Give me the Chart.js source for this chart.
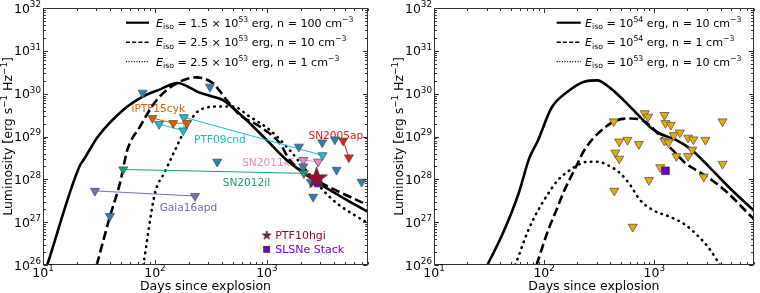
<!DOCTYPE html>
<html>
<head>
<meta charset="utf-8">
<script src="https://cdn.jsdelivr.net/npm/chart.js@4.4.1/dist/chart.umd.min.js"></script>
<style>
  html, body { margin: 0; padding: 0; background: #fff; }
  #wrap { position: relative; width: 760px; height: 293px; }
  canvas { position: absolute; top: 0; }
  #left { left: 0; }
  #right { left: 380px; }
</style>
</head>
<body>
<div id="wrap">
  <canvas id="left" width="380" height="293"></canvas>
  <canvas id="right" width="380" height="293"></canvas>
</div>
<script>
/* ============================================================
   Radio afterglow models vs. SLSN upper limits (two panels)
   ============================================================ */

// Tick labels (powers of ten)
const xTickExps = [1, 2, 3];
const yTickExps = [26, 27, 28, 29, 30, 31, 32];

// ---- Left panel: off-axis afterglow models (days, log10 L) ----
const leftSolidDays = [10.9, 21.4, 23, 31, 52, 78, 111, 158, 252, 330, 405, 610, 993, 1500, 2780, 4500, 8000];
const leftSolidLogL = [26.0, 28.33, 28.45, 29.0, 29.62, 29.93, 30.1, 30.25, 30.02, 29.93, 29.85, 29.46, 28.92, 28.45, 27.94, 27.61, 27.24];
const leftDashDays = [30.2, 39.6, 48.7, 56.6, 73.5, 103.5, 156, 235, 330, 437, 574, 867, 1306, 1600, 2790, 4490, 8000];
const leftDashLogL = [26.0, 27.13, 27.91, 28.68, 29.23, 29.85, 30.24, 30.38, 30.24, 29.85, 29.5, 29.23, 28.84, 28.45, 27.98, 27.70, 27.40];
const leftDotDays = [78.7, 100, 123, 151, 192, 252, 380, 497, 705, 1064, 1600, 2420, 3880, 8000];
const leftDotLogL = [26.0, 27.67, 28.18, 28.68, 29.23, 29.62, 29.70, 29.70, 29.46, 29.15, 28.68, 28.10, 27.52, 26.97];

// ---- Left panel: radio upper limits ----
const blueDays = [77.6, 310, 39.6, 360, 1930, 3120, 4050, 4190, 7010, 2590, 2110, 2470];
const blueLogL = [30.02, 30.16, 27.14, 28.41, 28.76, 28.86, 28.93, 28.22, 27.94, 27.59, 28.30, 27.94];
const iptf15cykDays = [95, 145.5, 193];
const iptf15cykLogL = [29.43, 29.31, 29.31];
const ptf09cndDays = [109, 179, 181.5, 3140];
const ptf09cndLogL = [29.29, 29.14, 29.45, 28.56];
const sn2005apDays = [4800, 5400];
const sn2005apLogL = [28.90, 28.51];
const sn2011kfDays = [2120, 2870];
const sn2011kfLogL = [28.45, 28.41];
const sn2012ilDays = [52.1, 2140];
const sn2012ilLogL = [28.23, 28.14];
const gaia16apdDays = [29.1, 228];
const gaia16apdLogL = [27.73, 27.61];
const ptf10hgiDays = [2780];
const ptf10hgiLogL = [28.05];
const stackLeftDays = [2870];
const stackLeftLogL = [27.91];

// ---- Right panel: on-axis afterglow models ----
const rightSolidDays = [30.5, 42.2, 58.6, 73.4, 88.3, 116, 164, 231, 303, 399, 525, 690, 908, 1114, 1570, 2200, 3340, 5050, 8000];
const rightSolidLogL = [26.0, 26.74, 27.67, 28.50, 28.92, 29.66, 30.05, 30.28, 30.31, 30.13, 29.85, 29.54, 29.23, 29.07, 28.92, 28.68, 28.22, 27.75, 27.27];
const rightDashDays = [85.3, 109, 129, 153, 175, 201, 231, 348, 458, 603, 792, 973, 1280, 1470, 1930, 2530, 3340, 4700, 6200, 8000];
const rightDashLogL = [26.0, 26.82, 27.28, 27.75, 28.06, 28.37, 28.68, 29.19, 29.38, 29.42, 29.37, 29.19, 28.84, 28.68, 28.37, 28.18, 27.98, 27.67, 27.36, 27.07];
const rightDotDays = [54.7, 72, 88.3, 109, 133, 164, 201, 247, 303, 399, 490, 603, 740, 973, 1370, 1930, 2530, 3120, 3950];
const rightDotLogL = [26.0, 26.82, 27.28, 27.67, 27.98, 28.18, 28.33, 28.41, 28.41, 28.30, 28.14, 27.87, 27.52, 27.28, 27.13, 26.93, 26.66, 26.40, 26.0];

// ---- Right panel: SLSN sample upper limits ----
const sampleDays = [428, 819, 879, 1236, 1262, 1410, 4160, 480, 570, 724, 1236, 1343, 1500, 1708,
                    2025, 2260, 2910, 443, 480, 1585, 2025, 2210, 4160, 1132, 2810, 895, 433, 637];
const sampleLogL = [29.35, 29.54, 29.46, 29.50, 29.31, 29.27, 29.35, 28.88, 28.92, 28.82, 28.90, 28.86, 29.03, 29.09,
                    28.97, 28.93, 28.92, 28.62, 28.48, 28.54, 28.54, 28.69, 28.36, 28.28, 28.06, 27.98, 27.73, 26.89];
const stackRightDays = [1262];
const stackRightLogL = [28.20];

// Palette
const C = {
  blue: '#2c7fb8', orange: '#d95f02', cyan: '#17becf', red: '#e41a1c',
  pink: '#e78ac3', green: '#1b9e77', lavender: '#7570b3', gold: '#e6ab02',
  star: '#9e0b26', starText: '#a50026', stack: '#6a00d4', stackText: '#7300e6'
};
const FONT = '"DejaVu Sans"';

// ---- helpers ----
function pts(days, logL) {
  return days.map((d, i) => ({ x: d, y: Math.pow(10, logL[i]) }));
}

function curve(days, logL, dash, cap) {
  return {
    data: pts(days, logL), showLine: true, borderColor: '#000', borderWidth: 2.6,
    borderDash: dash, borderCapStyle: cap || 'butt', pointRadius: 0,
    cubicInterpolationMode: 'monotone', order: 10
  };
}

function limits(days, logL, color, withLine) {
  return {
    data: pts(days, logL), showLine: withLine, borderColor: color, borderWidth: 1,
    pointStyle: 'triangle', rotation: 180, pointRadius: 5.2,
    pointBackgroundColor: color, pointBorderColor: '#555', pointBorderWidth: 0.8, order: 3
  };
}

function starImage(R, fill) {
  const c = document.createElement('canvas');
  const s = Math.ceil(R * 2 + 2);
  c.width = c.height = s;
  const g = c.getContext('2d');
  g.beginPath();
  for (let i = 0; i < 10; i++) {
    const a = -Math.PI / 2 + i * Math.PI / 5;
    const r = i % 2 ? R * 0.382 : R;
    g.lineTo(s / 2 + r * Math.cos(a), s / 2 + R * 0.1 + r * Math.sin(a));
  }
  g.closePath();
  g.fillStyle = fill; g.fill();
  g.strokeStyle = '#333'; g.lineWidth = 0.8; g.stroke();
  return c;
}

// text with italic / sub / sup runs: parts = [[text, style], ...]
function drawRich(ctx, parts, x, y, size, align, color) {
  const fontFor = s => (s === 'it' ? 'italic ' : '') + ((s === 'sub' || s === 'sup') ? size * 0.7 : size) + 'px ' + FONT;
  let w = 0;
  parts.forEach(([t, s]) => { ctx.font = fontFor(s); w += ctx.measureText(t).width; });
  let cx = align === 'center' ? x - w / 2 : align === 'right' ? x - w : x;
  ctx.fillStyle = color || '#000';
  ctx.textAlign = 'left';
  ctx.textBaseline = 'alphabetic';
  parts.forEach(([t, s]) => {
    ctx.font = fontFor(s);
    const dy = s === 'sup' ? -size * 0.45 : s === 'sub' ? size * 0.22 : 0;
    ctx.fillText(t, cx, y + dy);
    cx += ctx.measureText(t).width;
  });
  return w;
}

function eiso(mant, exp, n) {
  const head = [['E', 'it'], ['iso', 'sub'], [mant ? ' = ' + mant + ' × 10' : ' = 10', '']];
  return head.concat([[String(exp), 'sup'], [' erg, n = ' + n + ' cm', ''], ['−3', 'sup']]);
}

// Frame, inward log ticks, tick labels, axis titles, legends, annotations
const panelPlugin = {
  id: 'panel',
  beforeDatasetsDraw(chart, args, o) {
    const { ctx, scales: { x, y } } = chart;
    ctx.save();
    (o.notes || []).forEach(n => {
      const px = x.getPixelForValue(n.days), py = y.getPixelForValue(Math.pow(10, n.logL));
      drawRich(ctx, [[n.text, '']], px, py + 3.8, 10.6, 'center', n.color);
    });
    ctx.restore();
  },
  afterDatasetsDraw(chart, args, o) {
    const { ctx, chartArea: a, scales: { x, y } } = chart;
    ctx.save();
    ctx.strokeStyle = '#333';
    ctx.lineWidth = 1;
    const L = Math.round(a.left) + 0.5, R = Math.round(a.right) - 0.5;
    const T = Math.round(a.top) + 0.5, B = Math.round(a.bottom) - 0.5;
    ctx.strokeRect(L, T, R - L, B - T);

    ctx.beginPath();
    for (let e = 0; e <= 3; e++) {
      for (let m = 1; m <= 9; m++) {
        const v = m * Math.pow(10, e);
        if (v < x.min || v > x.max) continue;
        const px = Math.round(x.getPixelForValue(v)) + 0.5, len = m === 1 ? 4.5 : 2.5;
        ctx.moveTo(px, B); ctx.lineTo(px, B - len);
        ctx.moveTo(px, T); ctx.lineTo(px, T + len);
      }
    }
    for (let e = 26; e <= 32; e++) {
      for (let m = 1; m <= 9; m++) {
        const v = m * Math.pow(10, e);
        if (v < y.min || v > y.max) continue;
        const py = Math.round(y.getPixelForValue(v)) + 0.5, len = m === 1 ? 4.5 : 2.5;
        ctx.moveTo(L, py); ctx.lineTo(L + len, py);
        ctx.moveTo(R, py); ctx.lineTo(R - len, py);
      }
    }
    ctx.stroke();

    xTickExps.forEach(e => {
      drawRich(ctx, [['10', ''], [String(e), 'sup']], x.getPixelForValue(Math.pow(10, e)), a.bottom + 12, 12.5, 'center');
    });
    yTickExps.forEach(e => {
      drawRich(ctx, [['10', ''], [String(e), 'sup']], a.left - 2, y.getPixelForValue(Math.pow(10, e)) + 4.5, 12.5, 'right');
    });

    drawRich(ctx, [['Days since explosion', '']], (a.left + a.right) / 2, 289.5, 12.5, 'center');
    ctx.save();
    ctx.translate(a.left - 30.8, (a.top + a.bottom) / 2);
    ctx.rotate(-Math.PI / 2);
    drawRich(ctx, [['Luminosity [erg s', ''], ['−1', 'sup'], [' Hz', ''], ['−1', 'sup'], [']', '']], 0, 0, 12.5, 'center');
    ctx.restore();

    // model legend (top right)
    const lg = o.legend;
    const styles = [
      { w: 2.2, dash: [] },
      { w: 1.4, dash: [4, 2.2] },
      { w: 1.2, dash: [1, 1.6] }
    ];
    lg.rows.forEach((row, i) => {
      const yy = lg.y0 + i * lg.dy;
      ctx.beginPath();
      ctx.setLineDash(styles[i].dash);
      ctx.lineWidth = styles[i].w;
      ctx.strokeStyle = '#000';
      ctx.moveTo(lg.x0, yy); ctx.lineTo(lg.x1, yy);
      ctx.stroke();
      ctx.setLineDash([]);
      drawRich(ctx, row, lg.tx, yy + 4.1, 11.1, 'left');
    });

    // marker legend (lower right, left panel only)
    if (o.markers) {
      const m = o.markers;
      const st = starImage(4.6, C.star);
      ctx.drawImage(st, m.x - st.width / 2, m.y0 - st.height / 2);
      drawRich(ctx, [['PTF10hgi', '']], m.x + 8.5, m.y0 + 4, 11, 'left', C.starText);
      ctx.fillStyle = C.stack;
      ctx.strokeStyle = '#333';
      ctx.lineWidth = 0.8;
      ctx.fillRect(m.x - 3, m.y1 - 3, 6, 6);
      ctx.strokeRect(m.x - 3, m.y1 - 3, 6, 6);
      drawRich(ctx, [['SLSNe Stack', '']], m.x + 8.5, m.y1 + 4, 11, 'left', C.stackText);
    }
    ctx.restore();
  }
};

function makeChart(id, datasets, padding, panelOpts) {
  return new Chart(document.getElementById(id), {
    type: 'scatter',
    data: { datasets },
    options: {
      responsive: false,
      animation: false,
      devicePixelRatio: 1,
      layout: { padding },
      plugins: { legend: { display: false }, tooltip: { enabled: false }, panel: panelOpts },
      scales: {
        x: { type: 'logarithmic', min: 10, max: 8000, display: false },
        y: { type: 'logarithmic', min: 1e26, max: 1e32, display: false }
      }
    },
    plugins: [panelPlugin]
  });
}

// ---- Left panel ----
makeChart('left', [
  curve(leftSolidDays, leftSolidLogL, []),
  curve(leftDashDays, leftDashLogL, [9, 4]),
  curve(leftDotDays, leftDotLogL, [0.5, 5.6], 'round'),
  limits(blueDays, blueLogL, C.blue, false),
  limits(iptf15cykDays, iptf15cykLogL, C.orange, true),
  limits(ptf09cndDays, ptf09cndLogL, C.cyan, true),
  limits(sn2005apDays, sn2005apLogL, C.red, true),
  limits(sn2011kfDays, sn2011kfLogL, C.pink, true),
  limits(sn2012ilDays, sn2012ilLogL, C.green, true),
  limits(gaia16apdDays, gaia16apdLogL, C.lavender, true),
  { data: pts(stackLeftDays, stackLeftLogL), pointStyle: 'rect', pointRadius: 5.2,
    pointBackgroundColor: C.stack, pointBorderColor: '#333', pointBorderWidth: 0.8, order: 1 },
  { data: pts(ptf10hgiDays, ptf10hgiLogL), pointStyle: starImage(11.5, C.star), order: 0 }
], { left: 43, top: 8, right: 12, bottom: 28 }, {
  legend: {
    x0: 126, x1: 149, tx: 156, y0: 22.7, dy: 19.5,
    rows: [eiso('1.5', 53, 100), eiso('2.5', 53, 10), eiso('2.5', 53, 1)]
  },
  markers: { x: 266.7, y0: 235, y1: 249.3 },
  notes: [
    { text: 'iPTF15cyk', days: 107, logL: 29.665, color: C.orange },
    { text: 'PTF09cnd', days: 380, logL: 28.94, color: C.cyan },
    { text: 'SN2005ap', days: 4130, logL: 29.03, color: C.red },
    { text: 'SN2011kf', days: 1020, logL: 28.41, color: C.pink },
    { text: 'SN2012il', days: 656, logL: 27.94, color: C.green },
    { text: 'Gaia16apd', days: 199, logL: 27.36, color: C.lavender }
  ]
});

// ---- Right panel ----
makeChart('right', [
  curve(rightSolidDays, rightSolidLogL, []),
  curve(rightDashDays, rightDashLogL, [9, 4]),
  curve(rightDotDays, rightDotLogL, [0.5, 5.6], 'round'),
  limits(sampleDays, sampleLogL, C.gold, false),
  { data: pts(stackRightDays, stackRightLogL), pointStyle: 'rect', pointRadius: 5.4,
    pointBackgroundColor: C.stack, pointBorderColor: '#333', pointBorderWidth: 0.8, order: 1 }
], { left: 54, top: 8, right: 1, bottom: 28 }, {
  legend: {
    x0: 176.7, x1: 200.7, tx: 205, y0: 22.7, dy: 19.5,
    rows: [eiso('', 54, 10), eiso('', 54, 1), eiso('', 53, 10)]
  },
  notes: []
});
</script>
</body>
</html>
